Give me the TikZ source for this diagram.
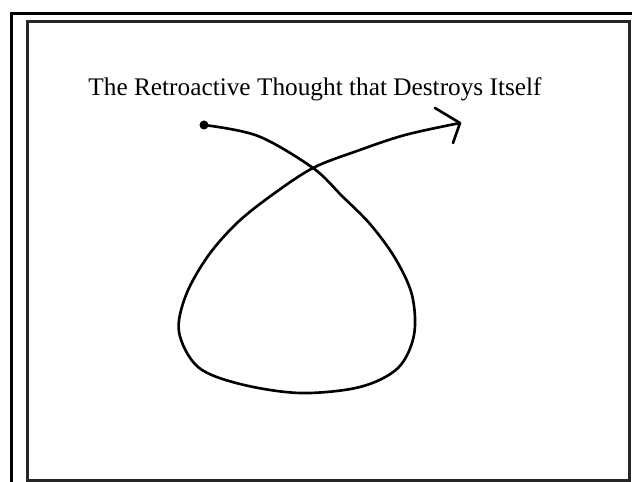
\documentclass[tikz,border=0pt]{standalone}
\usepackage{fontspec}
\setmainfont{Liberation Serif}
\usetikzlibrary{arrows.meta}

\begin{document}
\begin{tikzpicture}[x=0.02cm,y=-0.02cm,>=Stealth,
    frame/.style={line width=1.6pt},
    loopline/.style={line width=1.5pt,line cap=round,line join=round}]
  \useasboundingbox (0,0) rectangle (632,482);
  % outer and inner frame
  \draw[frame] (11.5,482) |- (632,13.5);
  \draw[frame,black!85] (27.5,21.5) rectangle (629.5,480.5);
  \node[font=\fontsize{14.4}{16}\selectfont] (title) at (315,89) {The Retroactive Thought that Destroys Itself};
  % the thought, looping back over itself
  \coordinate (start) at (204,125);
  \coordinate (tip) at (460,123);
  \draw[loopline] plot[smooth,tension=0.55] coordinates {
    (204,125) (258,136) (313,168) (342,196) (370,224) (395,258)
    (412,295) (414,335) (398,368) (360,387) (300,393)
    (240,384) (198,367) (179,332) (186,295) (208,256) (237,223)
    (272,195) (313,168) (357,151) (405,135) (460,123)};
  \fill (start) circle (4.5);
  \draw[loopline] (tip) -- +(-25,-15);
  \draw[loopline] (tip) -- +(-7,20);
\end{tikzpicture}
\end{document}
